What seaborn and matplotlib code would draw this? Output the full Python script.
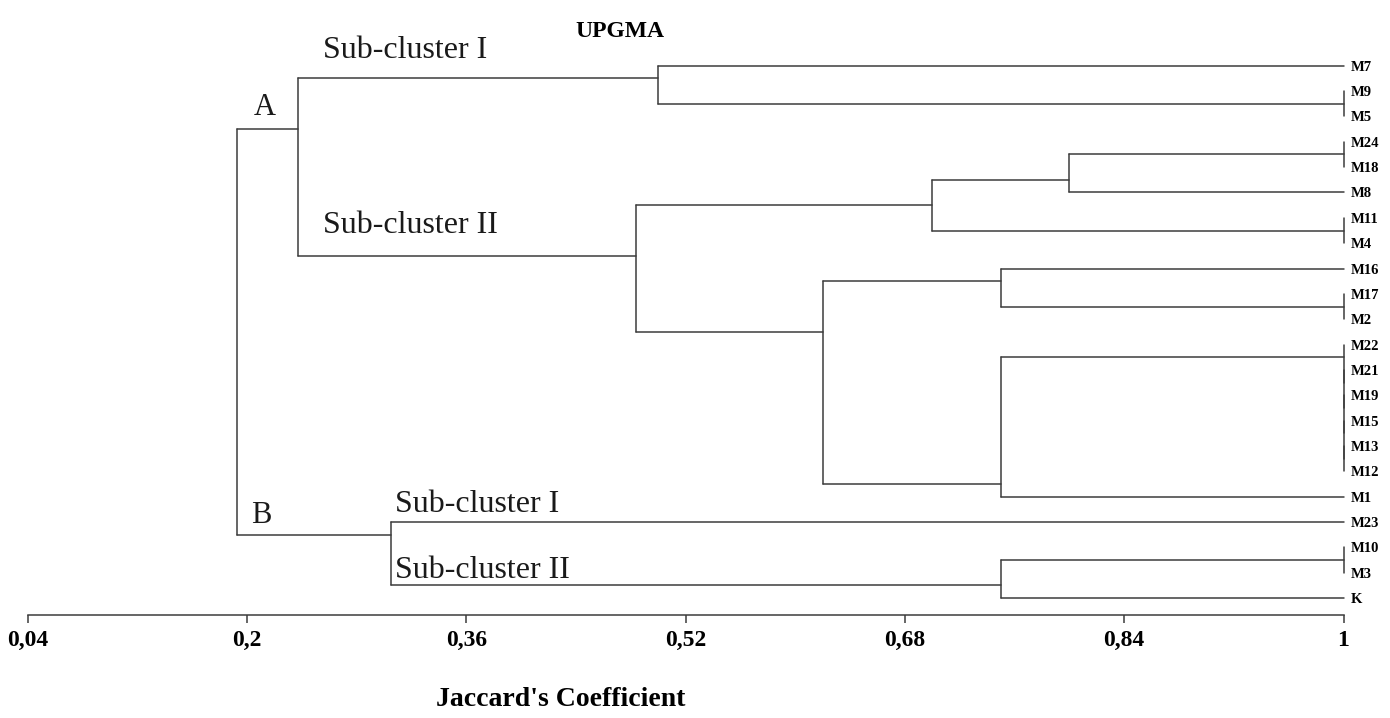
import matplotlib
matplotlib.use("Agg")
import matplotlib.pyplot as plt
import seaborn as sns
import pandas as pd

# UPGMA tree: every merge is (left, right) at a Jaccard level
node_names = ["c1", "SI", "c2", "c3", "c4", "c5", "c6", "c7", "c8", "c9", "c10",
              "c11", "c12", "c13", "c14", "SII", "A", "c15", "c16", "B", "root"]
left_child = ["M9", "M7", "M24", "c2", "M11", "c3", "M17", "M16", "M13", "M15", "M19",
              "M21", "M22", "c12", "c7", "c5", "SI", "M10", "c15", "M23", "A"]
right_child = ["M5", "c1", "M18", "M8", "M4", "c4", "M2", "c6", "M12", "c8", "c9",
               "c10", "c11", "M1", "c13", "c14", "SII", "M3", "K", "c16", "B"]
similarity = [1.0, 0.50, 1.0, 0.80, 1.0, 0.70, 1.0, 0.75, 1.0, 1.0, 1.0,
              1.0, 1.0, 0.75, 0.62, 0.484, 0.237, 1.0, 0.75, 0.305, 0.193]

tick_vals = [0.04, 0.2, 0.36, 0.52, 0.68, 0.84, 1.0]
tick_labels = ["0,04", "0,2", "0,36", "0,52", "0,68", "0,84", "1"]

sns.set_style("white")
plt.rcParams['font.family'] = ['Liberation Serif', 'DejaVu Serif']
line_col = "#3c3c3c"

children = {n: (l, r, s) for n, l, r, s in zip(node_names, left_child, right_child, similarity)}

# leaf order from the tree
order = []
def walk(n):
    if n in children:
        walk(children[n][0])
        walk(children[n][1])
    else:
        order.append(n)
walk("root")
pos = {name: i for i, name in enumerate(order)}

def level(n):
    return children[n][2] if n in children else 1.0

def last_leaf(n):
    return pos[n] if n not in children else last_leaf(children[n][1])

def conn(n):
    # node is drawn at the boundary between its two children
    if n not in children:
        return pos[n]
    return last_leaf(children[n][0]) + 0.5

rows = []
seg = 0
for n, (l, r, s) in children.items():
    rows += [(seg, s, conn(l)), (seg, s, conn(r))]
    seg += 1
    for c in (l, r):
        if level(c) > s:
            rows += [(seg, s, conn(c)), (seg, level(c), conn(c))]
            seg += 1
df = pd.DataFrame(rows, columns=["seg", "x", "y"])

fig = plt.figure(figsize=(13.9, 7.18), dpi=100)
ax = fig.add_axes([27.7 / 1390, 103 / 718, (1343.5 - 27.7) / 1390, 605 / 718])

sns.lineplot(data=df, x="x", y="y", units="seg", estimator=None, sort=False,
             color=line_col, lw=1.1, legend=False, ax=ax)
for ln in ax.lines:
    ln.set_clip_on(False)

ax.set_xlim(0.04, 1.0)
ax.set_ylim(21.67, -2.2)
ax.set_xlabel("")
ax.set_ylabel("")

ax.set_yticks(range(len(order)))
ax.set_yticklabels(order, fontweight="bold", fontsize=10.5, color="black")
ax.yaxis.tick_right()
ax.tick_params(axis="y", length=0, pad=5)

ax.set_xticks(tick_vals)
ax.set_xticklabels(tick_labels, fontweight="bold", fontsize=17, color="black")
ax.tick_params(axis="x", bottom=True, direction="out", length=6, width=1.1,
               color=line_col, pad=5)

sns.despine(ax=ax, left=True, right=True, top=True)
ax.spines["bottom"].set_color(line_col)
ax.spines["bottom"].set_linewidth(1.1)

def tag(txt, n_at, n_y, dx, dy, size):
    ax.annotate(txt, xy=(level(n_at), conn(n_y)), xytext=(dx, dy),
                textcoords="offset points", ha="left", va="baseline",
                fontsize=size, color="#1a1a1a")

tag("A", "root", "A", 11.5, 10, 22)
tag("B", "root", "B", 10, 8.4, 22)
tag("Sub-cluster I", "A", "SI", 18, 14.7, 23)
tag("Sub-cluster II", "A", "SII", 18, 16.4, 23)
tag("Sub-cluster I", "B", "M23", 3, 7, 23)
tag("Sub-cluster II", "B", "c16", 3, 5.3, 23)

fig.text(620 / 1390, 1 - 37 / 718, "UPGMA", ha="center", va="baseline",
         fontsize=17, fontweight="bold", color="black")
fig.text(561 / 1390, 1 - 700 / 718, "Jaccard's Coefficient", ha="center", va="center",
         fontsize=20, fontweight="bold", color="black")

fig.savefig("out.png", dpi=100)
